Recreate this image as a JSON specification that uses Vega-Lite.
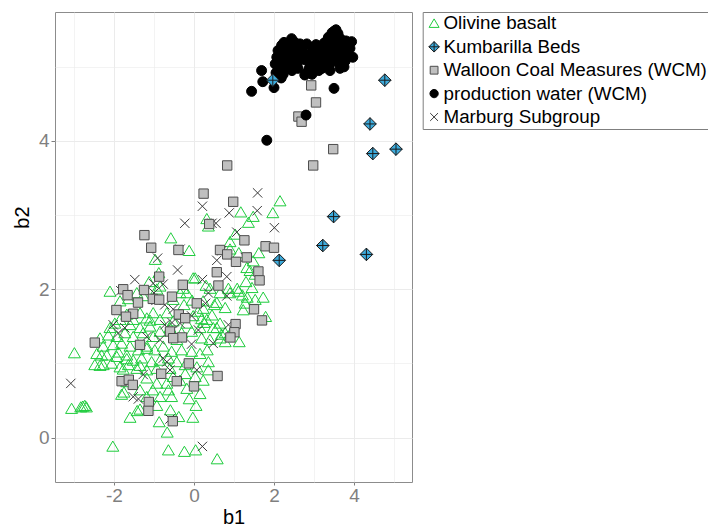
{
  "$schema": "https://vega.github.io/schema/vega-lite/v6.json",
  "autosize": {"type": "none"},
  "padding": {"left": 55, "top": 12, "right": 296, "bottom": 48},
  "width": 357,
  "height": 470,
  "background": "white",
  "config": {
    "font": "Liberation Sans",
    "view": {"stroke": "#8c8c8c", "strokeWidth": 1}
  },
  "data": {"values": [
    {"group":"Olivine basalt","b1":2.15,"b2":3.19},{"group":"Olivine basalt","b1":1.97,"b2":3.03},{"group":"Olivine basalt","b1":1.17,"b2":3.04},{"group":"Olivine basalt","b1":1.48,"b2":2.98},{"group":"Olivine basalt","b1":1.36,"b2":2.90},{"group":"Olivine basalt","b1":0.32,"b2":2.95},{"group":"Olivine basalt","b1":0.36,"b2":2.85},{"group":"Olivine basalt","b1":1.03,"b2":2.74},{"group":"Olivine basalt","b1":-0.58,"b2":2.69},{"group":"Olivine basalt","b1":0.90,"b2":2.64},
    {"group":"Olivine basalt","b1":-0.12,"b2":2.52},{"group":"Olivine basalt","b1":-0.97,"b2":2.40},{"group":"Olivine basalt","b1":1.12,"b2":2.49},{"group":"Olivine basalt","b1":1.62,"b2":2.49},{"group":"Olivine basalt","b1":1.32,"b2":2.29},{"group":"Olivine basalt","b1":1.48,"b2":2.38},{"group":"Olivine basalt","b1":0.90,"b2":2.54},{"group":"Olivine basalt","b1":-0.88,"b2":2.22},{"group":"Olivine basalt","b1":0.03,"b2":2.15},{"group":"Olivine basalt","b1":-1.12,"b2":2.10},
    {"group":"Olivine basalt","b1":-2.10,"b2":1.97},{"group":"Olivine basalt","b1":-1.64,"b2":1.87},{"group":"Olivine basalt","b1":-0.35,"b2":1.95},{"group":"Olivine basalt","b1":0.40,"b2":2.01},{"group":"Olivine basalt","b1":0.86,"b2":2.01},{"group":"Olivine basalt","b1":1.08,"b2":2.01},{"group":"Olivine basalt","b1":1.45,"b2":2.02},{"group":"Olivine basalt","b1":1.21,"b2":1.92},{"group":"Olivine basalt","b1":1.33,"b2":1.89},{"group":"Olivine basalt","b1":1.73,"b2":1.89},
    {"group":"Olivine basalt","b1":1.53,"b2":1.86},{"group":"Olivine basalt","b1":1.28,"b2":1.81},{"group":"Olivine basalt","b1":0.78,"b2":1.75},{"group":"Olivine basalt","b1":0.51,"b2":1.79},{"group":"Olivine basalt","b1":0.23,"b2":1.84},{"group":"Olivine basalt","b1":-0.25,"b2":1.79},{"group":"Olivine basalt","b1":-0.52,"b2":1.86},{"group":"Olivine basalt","b1":-0.18,"b2":1.95},{"group":"Olivine basalt","b1":-0.93,"b2":2.00},{"group":"Olivine basalt","b1":-1.27,"b2":1.91},
    {"group":"Olivine basalt","b1":-1.85,"b2":1.84},{"group":"Olivine basalt","b1":-1.43,"b2":1.95},{"group":"Olivine basalt","b1":1.79,"b2":1.63},{"group":"Olivine basalt","b1":0.65,"b2":1.54},{"group":"Olivine basalt","b1":0.48,"b2":1.48},{"group":"Olivine basalt","b1":0.94,"b2":1.43},{"group":"Olivine basalt","b1":0.69,"b2":1.39},{"group":"Olivine basalt","b1":0.32,"b2":1.59},{"group":"Olivine basalt","b1":0.15,"b2":1.48},{"group":"Olivine basalt","b1":-0.02,"b2":1.64},
    {"group":"Olivine basalt","b1":-0.18,"b2":1.54},{"group":"Olivine basalt","b1":-0.35,"b2":1.66},{"group":"Olivine basalt","b1":-0.52,"b2":1.57},{"group":"Olivine basalt","b1":-0.68,"b2":1.68},{"group":"Olivine basalt","b1":-0.85,"b2":1.59},{"group":"Olivine basalt","b1":-1.02,"b2":1.68},{"group":"Olivine basalt","b1":-1.18,"b2":1.61},{"group":"Olivine basalt","b1":-1.35,"b2":1.68},{"group":"Olivine basalt","b1":-1.52,"b2":1.59},{"group":"Olivine basalt","b1":-1.68,"b2":1.66},
    {"group":"Olivine basalt","b1":-1.85,"b2":1.59},{"group":"Olivine basalt","b1":-1.98,"b2":1.54},{"group":"Olivine basalt","b1":-2.10,"b2":1.48},{"group":"Olivine basalt","b1":-1.60,"b2":1.52},{"group":"Olivine basalt","b1":-1.35,"b2":1.48},{"group":"Olivine basalt","b1":-1.10,"b2":1.50},{"group":"Olivine basalt","b1":-0.85,"b2":1.43},{"group":"Olivine basalt","b1":-0.60,"b2":1.48},{"group":"Olivine basalt","b1":-0.31,"b2":1.41},{"group":"Olivine basalt","b1":-0.06,"b2":1.43},
    {"group":"Olivine basalt","b1":0.19,"b2":1.34},{"group":"Olivine basalt","b1":0.40,"b2":1.32},{"group":"Olivine basalt","b1":1.13,"b2":1.29},{"group":"Olivine basalt","b1":-2.35,"b2":1.34},{"group":"Olivine basalt","b1":-2.14,"b2":1.38},{"group":"Olivine basalt","b1":-1.93,"b2":1.36},{"group":"Olivine basalt","b1":-1.73,"b2":1.41},{"group":"Olivine basalt","b1":-1.52,"b2":1.36},{"group":"Olivine basalt","b1":-1.27,"b2":1.41},{"group":"Olivine basalt","b1":-1.02,"b2":1.36},
    {"group":"Olivine basalt","b1":-0.43,"b2":1.32},{"group":"Olivine basalt","b1":-2.27,"b2":1.23},{"group":"Olivine basalt","b1":-2.02,"b2":1.25},{"group":"Olivine basalt","b1":-1.81,"b2":1.27},{"group":"Olivine basalt","b1":-1.60,"b2":1.23},{"group":"Olivine basalt","b1":-1.39,"b2":1.18},{"group":"Olivine basalt","b1":-1.18,"b2":1.23},{"group":"Olivine basalt","b1":-0.98,"b2":1.18},{"group":"Olivine basalt","b1":-0.77,"b2":1.23},{"group":"Olivine basalt","b1":-0.56,"b2":1.16},
    {"group":"Olivine basalt","b1":-0.31,"b2":1.18},{"group":"Olivine basalt","b1":-0.06,"b2":1.16},{"group":"Olivine basalt","b1":0.15,"b2":1.13},{"group":"Olivine basalt","b1":0.33,"b2":1.18},{"group":"Olivine basalt","b1":-2.43,"b2":1.13},{"group":"Olivine basalt","b1":-2.18,"b2":1.11},{"group":"Olivine basalt","b1":-1.93,"b2":1.09},{"group":"Olivine basalt","b1":-1.68,"b2":1.11},{"group":"Olivine basalt","b1":-1.52,"b2":1.04},{"group":"Olivine basalt","b1":-1.31,"b2":1.07},
    {"group":"Olivine basalt","b1":-1.06,"b2":1.02},{"group":"Olivine basalt","b1":-0.85,"b2":1.04},{"group":"Olivine basalt","b1":-0.64,"b2":1.07},{"group":"Olivine basalt","b1":-0.43,"b2":1.02},{"group":"Olivine basalt","b1":-0.22,"b2":0.98},{"group":"Olivine basalt","b1":0.07,"b2":0.95},{"group":"Olivine basalt","b1":0.36,"b2":1.02},{"group":"Olivine basalt","b1":-2.48,"b2":0.98},{"group":"Olivine basalt","b1":-2.27,"b2":0.98},{"group":"Olivine basalt","b1":-2.06,"b2":1.00},
    {"group":"Olivine basalt","b1":-1.85,"b2":0.95},{"group":"Olivine basalt","b1":-1.64,"b2":0.98},{"group":"Olivine basalt","b1":-1.43,"b2":0.93},{"group":"Olivine basalt","b1":-1.18,"b2":0.91},{"group":"Olivine basalt","b1":-0.93,"b2":0.93},{"group":"Olivine basalt","b1":-0.60,"b2":0.93},{"group":"Olivine basalt","b1":0.36,"b2":0.91},{"group":"Olivine basalt","b1":0.03,"b2":0.82},{"group":"Olivine basalt","b1":-0.22,"b2":0.86},{"group":"Olivine basalt","b1":-0.52,"b2":0.82},
    {"group":"Olivine basalt","b1":-0.68,"b2":0.73},{"group":"Olivine basalt","b1":-0.93,"b2":0.73},{"group":"Olivine basalt","b1":-1.18,"b2":0.80},{"group":"Olivine basalt","b1":-1.75,"b2":0.61},{"group":"Olivine basalt","b1":-1.68,"b2":0.75},{"group":"Olivine basalt","b1":-1.03,"b2":0.64},{"group":"Olivine basalt","b1":-0.64,"b2":0.64},{"group":"Olivine basalt","b1":-0.18,"b2":0.66},{"group":"Olivine basalt","b1":0.23,"b2":0.77},{"group":"Olivine basalt","b1":0.15,"b2":0.59},
    {"group":"Olivine basalt","b1":-0.12,"b2":0.52},{"group":"Olivine basalt","b1":-0.56,"b2":0.55},{"group":"Olivine basalt","b1":-1.18,"b2":0.55},{"group":"Olivine basalt","b1":-0.85,"b2":0.55},{"group":"Olivine basalt","b1":-1.35,"b2":0.64},{"group":"Olivine basalt","b1":-0.35,"b2":0.77},{"group":"Olivine basalt","b1":-0.93,"b2":0.43},{"group":"Olivine basalt","b1":-0.59,"b2":0.37},{"group":"Olivine basalt","b1":0.05,"b2":0.43},{"group":"Olivine basalt","b1":-1.42,"b2":0.36},
    {"group":"Olivine basalt","b1":-0.38,"b2":0.28},{"group":"Olivine basalt","b1":-0.03,"b2":0.27},{"group":"Olivine basalt","b1":-1.60,"b2":0.27},{"group":"Olivine basalt","b1":-0.87,"b2":0.21},{"group":"Olivine basalt","b1":-0.67,"b2":0.07},{"group":"Olivine basalt","b1":-2.03,"b2":-0.12},{"group":"Olivine basalt","b1":-0.64,"b2":-0.17},{"group":"Olivine basalt","b1":-0.24,"b2":-0.19},{"group":"Olivine basalt","b1":0.04,"b2":-0.17},{"group":"Olivine basalt","b1":0.58,"b2":-0.29},
    {"group":"Olivine basalt","b1":-2.99,"b2":1.14},{"group":"Olivine basalt","b1":-3.06,"b2":0.39},{"group":"Olivine basalt","b1":-2.83,"b2":0.41},{"group":"Olivine basalt","b1":-2.78,"b2":0.42},{"group":"Olivine basalt","b1":-2.73,"b2":0.43},{"group":"Olivine basalt","b1":-2.69,"b2":0.41},{"group":"Olivine basalt","b1":0.57,"b2":1.82},{"group":"Olivine basalt","b1":0.90,"b2":1.95},{"group":"Olivine basalt","b1":0.65,"b2":1.95},{"group":"Olivine basalt","b1":1.11,"b2":1.97},
    {"group":"Olivine basalt","b1":1.23,"b2":1.72},{"group":"Olivine basalt","b1":0.78,"b2":1.41},{"group":"Olivine basalt","b1":0.57,"b2":1.48},{"group":"Olivine basalt","b1":0.65,"b2":1.34},{"group":"Olivine basalt","b1":0.78,"b2":1.29},{"group":"Olivine basalt","b1":1.40,"b2":2.25},{"group":"Olivine basalt","b1":1.53,"b2":2.20},{"group":"Olivine basalt","b1":1.30,"b2":2.10},{"group":"Olivine basalt","b1":0.10,"b2":1.70},{"group":"Olivine basalt","b1":0.25,"b2":1.55},
    {"group":"Olivine basalt","b1":0.45,"b2":1.65},{"group":"Olivine basalt","b1":-0.05,"b2":1.85},{"group":"Olivine basalt","b1":0.30,"b2":2.05},{"group":"Olivine basalt","b1":-0.85,"b2":2.04},{"group":"Olivine basalt","b1":-1.10,"b2":1.58},{"group":"Olivine basalt","b1":-2.31,"b2":1.11},{"group":"Olivine basalt","b1":-1.89,"b2":1.15},{"group":"Olivine basalt","b1":-1.68,"b2":1.06},{"group":"Olivine basalt","b1":-2.35,"b2":0.97},{"group":"Olivine basalt","b1":-1.77,"b2":0.92},
    {"group":"Olivine basalt","b1":-1.35,"b2":0.97},{"group":"Olivine basalt","b1":-1.18,"b2":1.20},{"group":"Olivine basalt","b1":-1.81,"b2":0.58},{"group":"Olivine basalt","b1":-1.35,"b2":0.38},{"group":"Olivine basalt","b1":0.19,"b2":1.60},{"group":"Olivine basalt","b1":-0.27,"b2":2.01},{"group":"Olivine basalt","b1":0.23,"b2":1.74},{"group":"Olivine basalt","b1":-0.02,"b2":2.15},

    {"group":"Marburg Subgroup","b1":-3.08,"b2":0.73},{"group":"Marburg Subgroup","b1":0.21,"b2":-0.12},{"group":"Marburg Subgroup","b1":1.59,"b2":3.30},{"group":"Marburg Subgroup","b1":0.21,"b2":3.12},{"group":"Marburg Subgroup","b1":0.88,"b2":3.03},{"group":"Marburg Subgroup","b1":1.58,"b2":3.06},{"group":"Marburg Subgroup","b1":-0.23,"b2":2.89},{"group":"Marburg Subgroup","b1":0.45,"b2":2.89},{"group":"Marburg Subgroup","b1":0.55,"b2":2.89},{"group":"Marburg Subgroup","b1":2.01,"b2":2.83},
    {"group":"Marburg Subgroup","b1":1.07,"b2":2.77},{"group":"Marburg Subgroup","b1":-0.35,"b2":2.54},{"group":"Marburg Subgroup","b1":-0.91,"b2":2.42},{"group":"Marburg Subgroup","b1":0.69,"b2":2.52},{"group":"Marburg Subgroup","b1":0.57,"b2":2.39},{"group":"Marburg Subgroup","b1":1.28,"b2":2.43},{"group":"Marburg Subgroup","b1":-0.41,"b2":2.26},{"group":"Marburg Subgroup","b1":0.82,"b2":2.17},{"group":"Marburg Subgroup","b1":-1.48,"b2":2.13},{"group":"Marburg Subgroup","b1":0.21,"b2":2.13},
    {"group":"Marburg Subgroup","b1":-1.83,"b2":1.98},{"group":"Marburg Subgroup","b1":-1.02,"b2":2.08},{"group":"Marburg Subgroup","b1":-0.77,"b2":2.07},{"group":"Marburg Subgroup","b1":-1.00,"b2":1.95},{"group":"Marburg Subgroup","b1":0.36,"b2":1.95},{"group":"Marburg Subgroup","b1":0.82,"b2":1.91},{"group":"Marburg Subgroup","b1":-0.73,"b2":1.79},{"group":"Marburg Subgroup","b1":0.29,"b2":1.81},{"group":"Marburg Subgroup","b1":-0.52,"b2":1.73},{"group":"Marburg Subgroup","b1":-0.06,"b2":1.64},
    {"group":"Marburg Subgroup","b1":-2.02,"b2":1.52},{"group":"Marburg Subgroup","b1":-1.89,"b2":1.41},{"group":"Marburg Subgroup","b1":-1.73,"b2":1.48},{"group":"Marburg Subgroup","b1":-0.73,"b2":1.52},{"group":"Marburg Subgroup","b1":-0.35,"b2":1.54},{"group":"Marburg Subgroup","b1":0.11,"b2":1.45},{"group":"Marburg Subgroup","b1":0.86,"b2":1.52},{"group":"Marburg Subgroup","b1":-0.85,"b2":1.32},{"group":"Marburg Subgroup","b1":0.48,"b2":1.27},{"group":"Marburg Subgroup","b1":-0.06,"b2":1.26},
    {"group":"Marburg Subgroup","b1":-1.18,"b2":1.36},{"group":"Marburg Subgroup","b1":-0.77,"b2":1.07},{"group":"Marburg Subgroup","b1":-0.68,"b2":1.02},{"group":"Marburg Subgroup","b1":-1.27,"b2":0.85},{"group":"Marburg Subgroup","b1":-1.52,"b2":0.55},{"group":"Marburg Subgroup","b1":-1.39,"b2":0.52},{"group":"Marburg Subgroup","b1":-0.60,"b2":0.25},{"group":"Marburg Subgroup","b1":0.07,"b2":0.91},{"group":"Marburg Subgroup","b1":-0.60,"b2":0.91},{"group":"Marburg Subgroup","b1":-0.95,"b2":1.85},
    {"group":"Marburg Subgroup","b1":-0.55,"b2":1.55},

    {"group":"Walloon Coal Measures (WCM)","b1":2.93,"b2":4.75},{"group":"Walloon Coal Measures (WCM)","b1":3.05,"b2":4.52},{"group":"Walloon Coal Measures (WCM)","b1":2.61,"b2":4.33},{"group":"Walloon Coal Measures (WCM)","b1":2.69,"b2":4.26},{"group":"Walloon Coal Measures (WCM)","b1":3.48,"b2":3.89},{"group":"Walloon Coal Measures (WCM)","b1":2.98,"b2":3.67},{"group":"Walloon Coal Measures (WCM)","b1":0.83,"b2":3.67},{"group":"Walloon Coal Measures (WCM)","b1":0.24,"b2":3.29},{"group":"Walloon Coal Measures (WCM)","b1":0.98,"b2":3.18},{"group":"Walloon Coal Measures (WCM)","b1":-1.24,"b2":2.73},
    {"group":"Walloon Coal Measures (WCM)","b1":-1.07,"b2":2.56},{"group":"Walloon Coal Measures (WCM)","b1":-0.39,"b2":2.53},{"group":"Walloon Coal Measures (WCM)","b1":0.38,"b2":2.88},{"group":"Walloon Coal Measures (WCM)","b1":1.26,"b2":2.66},{"group":"Walloon Coal Measures (WCM)","b1":1.79,"b2":2.58},{"group":"Walloon Coal Measures (WCM)","b1":2.00,"b2":2.56},{"group":"Walloon Coal Measures (WCM)","b1":0.65,"b2":2.53},{"group":"Walloon Coal Measures (WCM)","b1":0.83,"b2":2.47},{"group":"Walloon Coal Measures (WCM)","b1":1.05,"b2":2.37},{"group":"Walloon Coal Measures (WCM)","b1":1.32,"b2":2.43},
    {"group":"Walloon Coal Measures (WCM)","b1":1.61,"b2":2.24},{"group":"Walloon Coal Measures (WCM)","b1":1.64,"b2":2.12},{"group":"Walloon Coal Measures (WCM)","b1":0.57,"b2":2.23},{"group":"Walloon Coal Measures (WCM)","b1":0.61,"b2":2.05},{"group":"Walloon Coal Measures (WCM)","b1":-0.28,"b2":2.06},{"group":"Walloon Coal Measures (WCM)","b1":-0.87,"b2":2.17},{"group":"Walloon Coal Measures (WCM)","b1":-1.25,"b2":1.99},{"group":"Walloon Coal Measures (WCM)","b1":-1.77,"b2":2.00},{"group":"Walloon Coal Measures (WCM)","b1":-1.66,"b2":1.92},{"group":"Walloon Coal Measures (WCM)","b1":-1.03,"b2":1.87},
    {"group":"Walloon Coal Measures (WCM)","b1":-0.87,"b2":1.86},{"group":"Walloon Coal Measures (WCM)","b1":-0.55,"b2":1.90},{"group":"Walloon Coal Measures (WCM)","b1":-1.40,"b2":1.82},{"group":"Walloon Coal Measures (WCM)","b1":0.07,"b2":1.81},{"group":"Walloon Coal Measures (WCM)","b1":-1.94,"b2":1.72},{"group":"Walloon Coal Measures (WCM)","b1":-1.52,"b2":1.67},{"group":"Walloon Coal Measures (WCM)","b1":-1.70,"b2":1.63},{"group":"Walloon Coal Measures (WCM)","b1":-0.38,"b2":1.66},{"group":"Walloon Coal Measures (WCM)","b1":-0.22,"b2":1.61},{"group":"Walloon Coal Measures (WCM)","b1":1.50,"b2":1.73},
    {"group":"Walloon Coal Measures (WCM)","b1":1.70,"b2":1.58},{"group":"Walloon Coal Measures (WCM)","b1":1.04,"b2":1.53},{"group":"Walloon Coal Measures (WCM)","b1":1.01,"b2":1.42},{"group":"Walloon Coal Measures (WCM)","b1":0.91,"b2":1.35},{"group":"Walloon Coal Measures (WCM)","b1":-0.60,"b2":1.43},{"group":"Walloon Coal Measures (WCM)","b1":-0.30,"b2":1.35},{"group":"Walloon Coal Measures (WCM)","b1":-0.52,"b2":1.34},{"group":"Walloon Coal Measures (WCM)","b1":-2.48,"b2":1.28},{"group":"Walloon Coal Measures (WCM)","b1":-1.35,"b2":1.25},{"group":"Walloon Coal Measures (WCM)","b1":-0.13,"b2":1.00},
    {"group":"Walloon Coal Measures (WCM)","b1":0.59,"b2":0.83},{"group":"Walloon Coal Measures (WCM)","b1":-0.82,"b2":0.86},{"group":"Walloon Coal Measures (WCM)","b1":-1.81,"b2":0.76},{"group":"Walloon Coal Measures (WCM)","b1":-1.63,"b2":0.78},{"group":"Walloon Coal Measures (WCM)","b1":-1.53,"b2":0.71},{"group":"Walloon Coal Measures (WCM)","b1":-0.43,"b2":0.76},{"group":"Walloon Coal Measures (WCM)","b1":0.00,"b2":0.69},{"group":"Walloon Coal Measures (WCM)","b1":-1.13,"b2":0.48},{"group":"Walloon Coal Measures (WCM)","b1":-1.14,"b2":0.36},{"group":"Walloon Coal Measures (WCM)","b1":-0.53,"b2":0.22},

    {"group":"production water (WCM)","b1":2.03,"b2":5.04},{"group":"production water (WCM)","b1":2.07,"b2":5.13},{"group":"production water (WCM)","b1":2.15,"b2":5.19},{"group":"production water (WCM)","b1":2.19,"b2":5.29},{"group":"production water (WCM)","b1":2.23,"b2":4.90},{"group":"production water (WCM)","b1":2.32,"b2":5.04},{"group":"production water (WCM)","b1":2.44,"b2":5.38},{"group":"production water (WCM)","b1":2.44,"b2":5.17},{"group":"production water (WCM)","b1":2.48,"b2":5.04},{"group":"production water (WCM)","b1":2.57,"b2":5.26},
    {"group":"production water (WCM)","b1":2.61,"b2":5.08},{"group":"production water (WCM)","b1":2.65,"b2":5.31},{"group":"production water (WCM)","b1":2.10,"b2":5.22},{"group":"production water (WCM)","b1":2.12,"b2":4.98},{"group":"production water (WCM)","b1":2.20,"b2":5.10},{"group":"production water (WCM)","b1":2.28,"b2":5.15},{"group":"production water (WCM)","b1":2.35,"b2":5.25},{"group":"production water (WCM)","b1":2.38,"b2":5.32},{"group":"production water (WCM)","b1":2.52,"b2":5.33},{"group":"production water (WCM)","b1":2.55,"b2":5.15},
    {"group":"production water (WCM)","b1":2.70,"b2":5.20},{"group":"production water (WCM)","b1":2.72,"b2":5.28},{"group":"production water (WCM)","b1":2.25,"b2":5.33},{"group":"production water (WCM)","b1":2.30,"b2":5.22},{"group":"production water (WCM)","b1":2.40,"b2":5.10},{"group":"production water (WCM)","b1":2.05,"b2":4.92},{"group":"production water (WCM)","b1":2.18,"b2":4.85},{"group":"production water (WCM)","b1":2.45,"b2":4.95},{"group":"production water (WCM)","b1":2.60,"b2":4.98},{"group":"production water (WCM)","b1":2.35,"b2":4.98},
    {"group":"production water (WCM)","b1":2.50,"b2":5.24},{"group":"production water (WCM)","b1":2.75,"b2":5.10},{"group":"production water (WCM)","b1":2.82,"b2":5.31},{"group":"production water (WCM)","b1":2.78,"b2":5.17},{"group":"production water (WCM)","b1":2.82,"b2":4.92},{"group":"production water (WCM)","b1":2.90,"b2":5.04},{"group":"production water (WCM)","b1":2.98,"b2":5.13},{"group":"production water (WCM)","b1":3.07,"b2":5.19},{"group":"production water (WCM)","b1":3.15,"b2":5.04},{"group":"production water (WCM)","b1":3.19,"b2":5.26},
    {"group":"production water (WCM)","b1":3.28,"b2":5.17},{"group":"production water (WCM)","b1":3.32,"b2":5.35},{"group":"production water (WCM)","b1":3.40,"b2":5.04},{"group":"production water (WCM)","b1":3.40,"b2":4.95},{"group":"production water (WCM)","b1":3.44,"b2":5.26},{"group":"production water (WCM)","b1":3.53,"b2":5.44},{"group":"production water (WCM)","b1":3.57,"b2":5.35},{"group":"production water (WCM)","b1":3.57,"b2":5.13},{"group":"production water (WCM)","b1":3.65,"b2":5.26},{"group":"production water (WCM)","b1":3.69,"b2":5.17},
    {"group":"production water (WCM)","b1":3.78,"b2":5.08},{"group":"production water (WCM)","b1":3.86,"b2":5.31},{"group":"production water (WCM)","b1":3.94,"b2":5.34},{"group":"production water (WCM)","b1":3.97,"b2":5.13},{"group":"production water (WCM)","b1":2.88,"b2":4.98},{"group":"production water (WCM)","b1":2.95,"b2":4.90},{"group":"production water (WCM)","b1":3.00,"b2":5.22},{"group":"production water (WCM)","b1":3.05,"b2":5.30},{"group":"production water (WCM)","b1":3.10,"b2":5.12},{"group":"production water (WCM)","b1":3.12,"b2":4.95},
    {"group":"production water (WCM)","b1":3.22,"b2":5.10},{"group":"production water (WCM)","b1":3.25,"b2":5.32},{"group":"production water (WCM)","b1":3.30,"b2":5.24},{"group":"production water (WCM)","b1":3.35,"b2":5.12},{"group":"production water (WCM)","b1":3.36,"b2":5.40},{"group":"production water (WCM)","b1":3.45,"b2":5.18},{"group":"production water (WCM)","b1":3.48,"b2":5.38},{"group":"production water (WCM)","b1":3.50,"b2":5.10},{"group":"production water (WCM)","b1":3.52,"b2":5.30},{"group":"production water (WCM)","b1":3.55,"b2":5.22},
    {"group":"production water (WCM)","b1":3.60,"b2":5.45},{"group":"production water (WCM)","b1":3.62,"b2":5.20},{"group":"production water (WCM)","b1":3.63,"b2":5.05},{"group":"production water (WCM)","b1":3.66,"b2":5.38},{"group":"production water (WCM)","b1":3.70,"b2":5.30},{"group":"production water (WCM)","b1":3.72,"b2":5.12},{"group":"production water (WCM)","b1":3.75,"b2":5.22},{"group":"production water (WCM)","b1":3.80,"b2":5.35},{"group":"production water (WCM)","b1":3.82,"b2":5.20},{"group":"production water (WCM)","b1":3.85,"b2":5.15},
    {"group":"production water (WCM)","b1":3.90,"b2":5.25},{"group":"production water (WCM)","b1":3.55,"b2":5.50},{"group":"production water (WCM)","b1":3.50,"b2":5.48},{"group":"production water (WCM)","b1":3.45,"b2":5.46},{"group":"production water (WCM)","b1":3.60,"b2":5.30},{"group":"production water (WCM)","b1":3.40,"b2":5.20},{"group":"production water (WCM)","b1":3.30,"b2":5.08},{"group":"production water (WCM)","b1":3.20,"b2":4.98},{"group":"production water (WCM)","b1":3.05,"b2":5.00},{"group":"production water (WCM)","b1":2.95,"b2":5.26},
    {"group":"production water (WCM)","b1":3.65,"b2":4.98},{"group":"production water (WCM)","b1":3.75,"b2":5.00},{"group":"production water (WCM)","b1":1.44,"b2":4.67},{"group":"production water (WCM)","b1":1.69,"b2":4.95},{"group":"production water (WCM)","b1":1.72,"b2":4.80},{"group":"production water (WCM)","b1":2.00,"b2":4.72},{"group":"production water (WCM)","b1":3.50,"b2":4.71},{"group":"production water (WCM)","b1":2.80,"b2":4.35},{"group":"production water (WCM)","b1":1.82,"b2":4.01},{"group":"production water (WCM)","b1":2.17,"b2":4.89},
    {"group":"production water (WCM)","b1":2.77,"b2":4.89},

    {"group":"Kumbarilla Beds","b1":1.97,"b2":4.82},{"group":"Kumbarilla Beds","b1":4.77,"b2":4.82},{"group":"Kumbarilla Beds","b1":4.40,"b2":4.23},{"group":"Kumbarilla Beds","b1":4.47,"b2":3.83},{"group":"Kumbarilla Beds","b1":5.05,"b2":3.89},{"group":"Kumbarilla Beds","b1":3.49,"b2":2.98},{"group":"Kumbarilla Beds","b1":3.22,"b2":2.59},{"group":"Kumbarilla Beds","b1":4.31,"b2":2.47},{"group":"Kumbarilla Beds","b1":2.13,"b2":2.39}
  ]},
  "mark": {"type": "point", "opacity": 1, "strokeWidth": 1, "filled": true, "size": 144},
  "encoding": {
    "x": {
      "field": "b1", "type": "quantitative",
      "scale": {"domain": [-3.475, 5.45], "nice": false, "zero": false},
      "axis": {
        "title": "b1", "values": [-3, -2, -1, 0, 1, 2, 3, 4, 5],
        "labelExpr": "datum.value % 2 === 0 ? '' + datum.value : ''",
        "domain": false, "labelFontSize": 19, "labelColor": "#7f7f7f", "labelPadding": 1,
        "tickSize": 3, "tickColor": "#7f7f7f",
        "tickOpacity": {"condition": {"test": "datum.value % 2 !== 0", "value": 0}, "value": 1},
        "gridColor": "#ebebeb",
        "gridWidth": {"condition": {"test": "datum.value % 2 !== 0", "value": 0.6}, "value": 1},
        "titleFontSize": 20, "titleFontWeight": "normal", "titleColor": "#000000",
        "titleBaseline": "top", "titleY": 25
      }
    },
    "y": {
      "field": "b2", "type": "quantitative",
      "scale": {"domain": [-0.6, 5.74], "nice": false, "zero": false},
      "axis": {
        "title": "b2", "values": [0, 1, 2, 3, 4, 5],
        "labelExpr": "datum.value % 2 === 0 ? '' + datum.value : ''",
        "domain": false, "labelFontSize": 19, "labelColor": "#7f7f7f", "labelPadding": 2,
        "tickSize": 4, "tickColor": "#7f7f7f",
        "tickOpacity": {"condition": {"test": "datum.value % 2 !== 0", "value": 0}, "value": 1},
        "gridColor": "#ebebeb",
        "gridWidth": {"condition": {"test": "datum.value % 2 !== 0", "value": 0.6}, "value": 1},
        "titleFontSize": 20, "titleFontWeight": "normal", "titleColor": "#000000",
        "titleAngle": 270, "titleBaseline": "alphabetic", "titleAlign": "center",
        "titleX": -27, "titleY": 205
      }
    },
    "shape": {
      "field": "group", "type": "nominal",
      "scale": {
        "domain": ["Olivine basalt", "Kumbarilla Beds", "Walloon Coal Measures (WCM)", "production water (WCM)", "Marburg Subgroup"],
        "range": ["M0,-0.9L1,0.8L-1,0.8Z", "M0,-1.05L1.05,0L0,1.05L-1.05,0Z M0,-1.05L0,1.05 M-1.05,0L1.05,0", "M-0.78,-0.78H0.78V0.78H-0.78Z", "M0.83,0A0.83,0.83,0,1,1,-0.83,0A0.83,0.83,0,1,1,0.83,0Z", "M-0.78,-0.78L0.78,0.78M-0.78,0.78L0.78,-0.78"]
      },
      "legend": {
        "orient": "none", "legendX": 367.7, "legendY": 0, "title": null,
        "labelFontSize": 18.8, "labelFont": "Liberation Sans", "labelColor": "#000000", "labelLimit": 500,
        "symbolSize": 100, "rowPadding": 3.4, "padding": 2, "labelOffset": 0,
        "strokeColor": "#7f7f7f", "symbolStrokeWidth": 1
      }
    },
    "fill": {
      "field": "group", "type": "nominal",
      "scale": {
        "domain": ["Olivine basalt", "Kumbarilla Beds", "Walloon Coal Measures (WCM)", "production water (WCM)", "Marburg Subgroup"],
        "range": ["transparent", "#3dabdc", "#c0c0c0", "#000000", "transparent"]
      },
      "legend": {
        "orient": "none", "legendX": 367.7, "legendY": 0, "title": null,
        "labelFontSize": 18.8, "labelFont": "Liberation Sans", "labelColor": "#000000", "labelLimit": 500,
        "symbolSize": 100, "rowPadding": 3.4, "padding": 2, "labelOffset": 0,
        "strokeColor": "#7f7f7f", "symbolStrokeWidth": 1
      }
    },
    "stroke": {
      "field": "group", "type": "nominal",
      "scale": {
        "domain": ["Olivine basalt", "Kumbarilla Beds", "Walloon Coal Measures (WCM)", "production water (WCM)", "Marburg Subgroup"],
        "range": ["#1fcc3d", "#1a1a1a", "#4d4d4d", "#000000", "#3a3a3a"]
      },
      "legend": {
        "orient": "none", "legendX": 367.7, "legendY": 0, "title": null,
        "labelFontSize": 18.8, "labelFont": "Liberation Sans", "labelColor": "#000000", "labelLimit": 500,
        "symbolSize": 100, "rowPadding": 3.4, "padding": 2, "labelOffset": 0,
        "strokeColor": "#7f7f7f", "symbolStrokeWidth": 1
      }
    }
  }
}
